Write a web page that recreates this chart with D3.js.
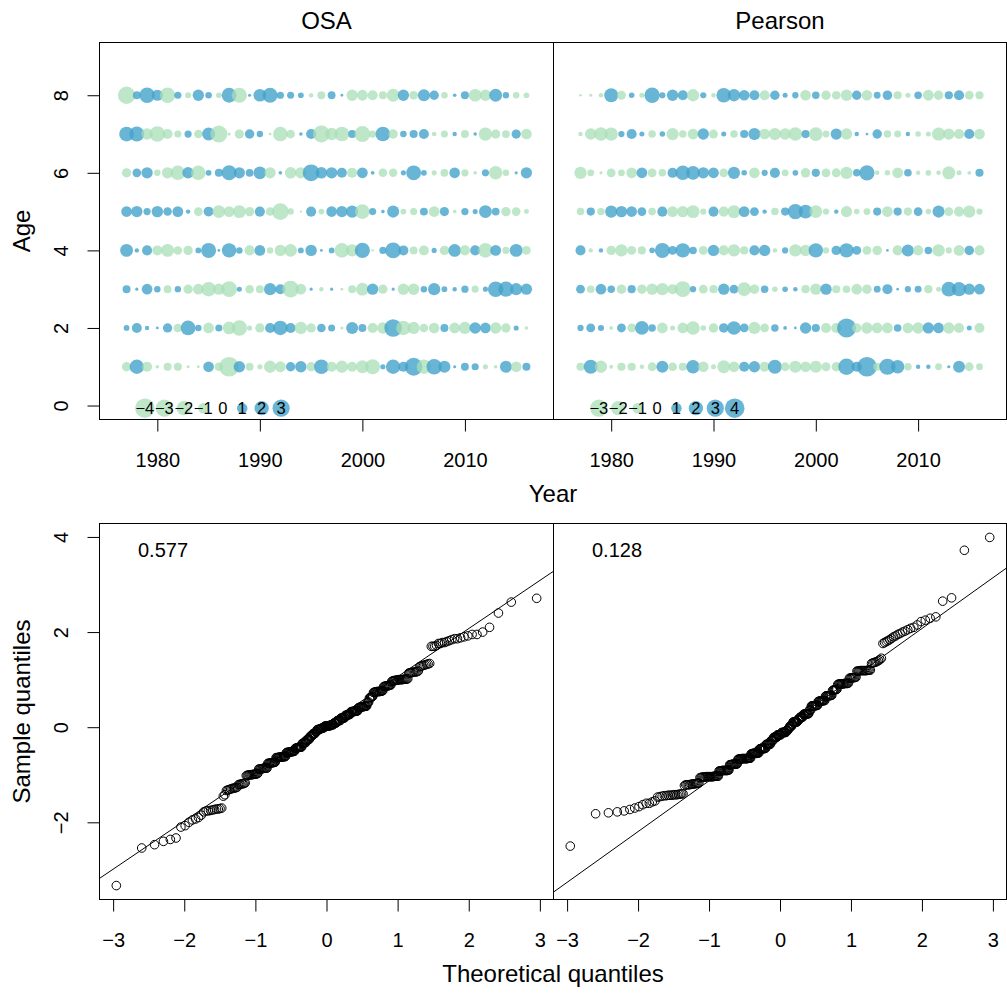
<!DOCTYPE html>
<html>
<head>
<meta charset="utf-8">
<script src="https://cdn.jsdelivr.net/npm/d3@7"></script>
<style>
body { margin: 0; background: #fff; }
svg { display: block; font-family: "Liberation Sans", Arial, Helvetica, sans-serif; }
</style>
</head>
<body>
<div id="chart"></div>
<script>
// years and ages of the residual grid
var years = [1977, 1978, 1979, 1980, 1981, 1982, 1983, 1984, 1985, 1986,
             1987, 1988, 1989, 1990, 1991, 1992, 1993, 1994, 1995, 1996,
             1997, 1998, 1999, 2000, 2001, 2002, 2003, 2004, 2005, 2006,
             2007, 2008, 2009, 2010, 2011, 2012, 2013, 2014, 2015, 2016]
var ages = [1, 2, 3, 4, 5, 6, 7, 8]

// OSA residuals, one array per age, years 1977..2016 (read from the bubbles)
var osaAge1 = [-0.63, 1.70, -0.75, -0.05, -0.43, -0.45, -0.03, -0.02, 0.87, -0.52, -3.33, 1.01, -0.42, -0.14, -1.19, -0.88, 0.63, 1.00, -0.62, 1.76, -0.76, -1.21, -0.74, -1.30, -1.85, 0.14, 1.72, 0.75, 2.71, -1.72, 1.95, 1.16, 0.03, 0.43, 0.33, -0.14, -0.05, 1.15, -0.86, 0.44]
var osaAge2 = [0.19, 0.74, 0.09, 0.02, 0.63, -0.53, 1.78, 0.26, -0.87, 0.33, -1.28, -1.95, -0.14, -0.63, 0.76, 1.70, 0.75, -1.20, -0.62, 0.52, 0.32, -0.03, 1.14, 0.43, -0.75, -1.01, 2.63, -1.72, -1.18, -0.51, -0.86, 0.44, -0.88, -1.17, 1.01, 0.87, -1.00, -0.64, 0.14, -0.05]
var osaAge3 = [0.43, 0.03, 0.87, 0.26, -0.42, 0.25, -0.62, -0.88, -1.71, -0.99, -2.07, 0.13, -0.52, -0.44, 1.17, 0.75, -2.33, -0.86, 0.03, -0.09, 0.03, -0.02, -0.42, -1.27, 1.00, -0.63, 0.03, -1.00, -1.01, 0.26, 1.18, 0.19, 0.09, 0.34, -0.33, 0.14, 2.00, 1.92, 1.16, 0.99]
var osaAge4 = [1.31, 0.09, 0.76, -0.74, -1.32, -0.51, -0.62, 0.19, 1.86, 0.02, 1.70, 0.26, -0.76, 0.87, -0.25, -1.00, -1.26, 0.20, 1.01, 0.02, 0.19, -1.75, -1.19, 1.90, -0.01, 0.33, 2.10, 0.74, -0.43, -0.73, 0.14, -0.64, 1.28, -0.75, 0.75, -1.76, 0.88, -0.32, 1.34, -0.53]
var osaAge5 = [0.86, 0.98, 0.34, 1.00, 0.51, 0.89, 0.09, -0.53, 0.73, -1.29, -0.87, -1.33, -0.63, 0.77, -0.51, -2.36, -0.26, -0.01, 0.75, -0.19, 0.85, 0.99, 1.15, -1.78, 0.33, 0.05, 1.14, -0.19, -0.33, 0.43, -0.86, 0.61, -0.05, 0.35, 0.14, 1.30, 0.42, -0.64, -0.52, -0.13]
var osaAge6 = [-0.63, 0.53, 0.99, -0.26, -1.00, -1.70, 1.01, -1.73, 0.19, 0.44, 1.84, 0.96, 0.41, 1.27, -0.97, 0.05, -1.02, -0.98, 2.40, 1.02, 1.00, 0.74, -0.75, 0.88, 0.06, -0.52, -0.50, 0.14, 1.82, 0.20, -0.14, -0.42, 0.86, -0.34, -0.05, 0.33, -1.45, -0.27, 0.03, 0.98]
var osaAge7 = [1.78, 1.86, -0.99, -2.00, -0.74, -0.33, 0.34, -0.51, 1.33, -2.47, -0.03, -0.62, 0.65, 0.25, -0.02, -1.74, -0.54, 0.05, 0.76, -2.40, -1.20, -1.76, 0.42, -2.10, -0.34, 1.76, -0.64, 0.27, 0.45, 0.73, -0.10, -0.32, 0.09, -0.44, 0.05, -1.42, -0.61, -0.41, 0.62, -0.86]
var osaAge8 = [-2.54, 0.42, 1.95, 0.97, -1.93, 0.33, -0.20, 1.00, 0.27, -0.18, 1.80, -1.90, 0.03, 1.29, 1.88, 0.34, 0.32, 0.19, -0.09, -0.44, 0.41, 0.02, -0.99, -0.88, -0.76, -0.42, -1.31, 0.98, -0.53, 1.16, 0.64, -0.27, 0.05, 0.44, -1.28, -0.98, 1.32, 0.25, -0.26, -0.19]

// Pearson residuals, one array per age, years 1977..2016
var pearsonAge1 = [-0.55, 1.95, -1.43, -0.07, -0.54, -0.56, -0.11, -0.66, 1.35, -0.65, -0.55, 1.78, -1.04, -0.16, -1.60, -1.03, 0.91, 1.19, -0.91, 1.92, -0.66, -1.41, -1.04, -1.40, -0.67, -0.78, 2.72, 0.92, 3.99, -0.55, 2.65, 1.76, -0.45, 0.11, 0.11, -0.36, 0.04, 1.34, -0.66, -0.36]
var pearsonAge2 = [0.28, 0.66, 0.27, -0.07, 0.67, -0.66, 1.82, 0.45, -1.04, -0.16, -1.05, -1.76, -0.21, -0.78, 0.79, 1.80, 0.66, -1.42, -0.65, 0.45, 0.07, 0.02, 1.19, 0.55, -0.91, -0.92, 3.72, -0.78, -1.20, -1.04, -1.06, 0.46, -1.03, -1.19, 1.18, 1.04, -1.21, -0.91, 0.16, -0.90]
var pearsonAge3 = [0.66, -0.45, 1.04, 0.45, -0.78, 0.55, -0.77, -1.19, -1.45, -0.91, -2.50, 0.28, -0.66, -0.55, 1.19, 0.66, -1.80, -0.79, 0.45, -0.21, 0.21, 0.11, -0.55, -1.18, 1.19, -0.54, -0.45, -1.04, -0.78, 0.36, 0.91, 0.02, 0.28, 0.36, -0.56, -0.16, 2.15, 1.97, 1.20, 1.04]
var pearsonAge4 = [0.91, -0.11, 0.11, -0.78, -1.43, -0.67, -0.55, 0.21, 2.22, 0.66, 2.05, 0.45, -0.65, 1.19, -0.91, -1.42, -0.56, 0.92, 1.18, -0.11, 0.28, -1.47, -1.21, 2.02, -0.28, 0.78, 2.00, 0.67, -0.66, -0.79, 0.02, -0.92, 1.36, -0.90, 0.45, -1.46, -0.28, -1.04, 0.79, -0.91]
var pearsonAge5 = [-0.45, 0.56, -0.44, 1.38, 1.20, 1.03, 0.66, -0.46, 0.92, -1.04, -1.20, -1.60, -0.28, 0.90, -0.92, -1.57, 1.05, 0.67, 0.11, -0.45, 0.55, 2.25, 1.84, -1.55, -0.29, 0.11, -1.17, -0.21, -0.36, 0.54, -1.03, 0.56, -0.55, 0.65, -0.21, 1.37, -0.66, -0.91, -1.40, -0.28]
var pearsonAge6 = [-1.44, -0.36, -0.04, -0.66, -0.36, -1.04, 1.05, -0.67, -0.45, 0.91, 2.08, 1.87, 1.20, 1.04, -0.65, 1.40, 0.21, -1.03, 0.28, 0.92, -0.36, 0.22, -0.78, 0.55, -0.66, -0.68, -1.41, 0.44, 2.29, -0.11, -0.21, -1.05, 0.46, -0.11, -0.22, -0.12, -1.63, -0.16, -0.07, 0.54]
var pearsonAge7 = [-0.11, -1.23, -1.73, -1.70, 0.28, 0.91, 0.16, -0.45, 0.21, -1.43, -0.44, -1.04, 1.19, -0.67, 0.16, -0.46, 0.55, 1.42, -1.03, -1.42, -1.21, -1.78, 0.56, -1.82, -0.36, 1.18, -1.19, 0.11, 0.02, 0.78, -0.45, -0.36, 0.11, -0.21, -0.16, -1.67, -1.18, -0.92, 0.91, -1.05]
var pearsonAge8 = [-0.02, -0.04, -0.11, 1.90, -0.67, 0.21, -0.16, 2.32, 0.28, 1.19, 0.92, -1.44, 0.27, -0.11, 2.10, 1.45, 1.03, 0.90, -0.91, 0.79, 0.16, 0.29, -1.05, 0.45, -0.77, -0.65, -1.21, 0.77, -1.03, 0.36, 0.80, -0.55, -0.16, 0.46, -1.06, -0.79, 0.56, 0.93, -0.66, -0.54]

// legend values and the numbers printed in the QQ panels
var osaLegend = [-4, -3, -2, -1, 0, 1, 2, 3]
var pearsonLegend = [-3, -2, -1, 0, 1, 2, 3, 4]
var osaStat = "0.577"
var pearsonStat = "0.128"

// tick labels
var yearTicks = [1980, 1990, 2000, 2010]
var ageTicks = [0, 2, 4, 6, 8]
var qqXTicks = [-3, -2, -1, 0, 1, 2, 3]
var qqYTicks = [-2, 0, 2, 4]

var width = 1007, height = 994
var colPos = "rgba(67, 162, 202, 0.8)"
var colNeg = "rgba(168, 221, 181, 0.75)"
var tickFont = 20, titleFont = 24, legendFont = 16.5
var rmax = 9.8, rmin = 0.7   // rmin: the rim every filled dot gets

var svg = d3.select("#chart").append("svg")
	.attr("width", width)
	.attr("height", height)

var cols = [{x0: 99.5, x1: 553.5}, {x0: 553.5, x1: 1006.5}]
var bubbleBox = {y0: 42.5, y1: 419.5}
var qqBox = {y0: 523.5, y1: 899.5}

var panels = [
	{name: "OSA", rows: [osaAge1, osaAge2, osaAge3, osaAge4, osaAge5, osaAge6, osaAge7, osaAge8], legend: osaLegend, stat: osaStat},
	{name: "Pearson", rows: [pearsonAge1, pearsonAge2, pearsonAge3, pearsonAge4, pearsonAge5, pearsonAge6, pearsonAge7, pearsonAge8], legend: pearsonLegend, stat: pearsonStat}
]

function minus(d) { return String(d).replace("-", "\u2212") }

// R style 4% axis expansion
function expand(lo, hi) {
	var r = hi - lo
	return [lo - 0.04 * r, hi + 0.04 * r]
}

// inverse normal cdf (Acklam)
function qnorm(p) {
	var a = [-3.969683028665376e+01, 2.209460984245205e+02, -2.759285104469687e+02, 1.383577518672690e+02, -3.066479806614716e+01, 2.506628277459239e+00]
	var b = [-5.447609879822406e+01, 1.615858368580409e+02, -1.556989798598866e+02, 6.680131188771972e+01, -1.328068155288572e+01]
	var c = [-7.784894002430293e-03, -3.223964580411365e-01, -2.400758277161838e+00, -2.549732539343734e+00, 4.374664141464968e+00, 2.938163982698783e+00]
	var d = [7.784695709041462e-03, 3.224671290700398e-01, 2.445134137142996e+00, 3.754408661907416e+00]
	var pl = 0.02425, q, r
	if (p < pl) {
		q = Math.sqrt(-2 * Math.log(p))
		return (((((c[0]*q+c[1])*q+c[2])*q+c[3])*q+c[4])*q+c[5]) / ((((d[0]*q+d[1])*q+d[2])*q+d[3])*q+1)
	}
	if (p > 1 - pl) {
		q = Math.sqrt(-2 * Math.log(1 - p))
		return -(((((c[0]*q+c[1])*q+c[2])*q+c[3])*q+c[4])*q+c[5]) / ((((d[0]*q+d[1])*q+d[2])*q+d[3])*q+1)
	}
	q = p - 0.5; r = q * q
	return (((((a[0]*r+a[1])*r+a[2])*r+a[3])*r+a[4])*r+a[5])*q / (((((b[0]*r+b[1])*r+b[2])*r+b[3])*r+b[4])*r+1)
}

// bottom axis in the R look: ticks down, no domain line
function bottomAxis(scale, ticks, y) {
	var g = svg.append("g")
		.attr("transform", "translate(0," + y + ")")
		.call(d3.axisBottom(scale).tickValues(ticks).tickSize(12).tickPadding(21).tickFormat(minus))
	g.select(".domain").remove()
	g.attr("font-size", tickFont).attr("font-family", null)
	g.selectAll("line").attr("stroke", "#000")
	g.selectAll("text").attr("fill", "#000")
}

// left axis with labels turned parallel to the axis
function leftAxis(scale, ticks, x) {
	var g = svg.append("g")
		.attr("transform", "translate(" + x + ",0)")
		.call(d3.axisLeft(scale).tickValues(ticks).tickSize(12).tickFormat(""))
	g.select(".domain").remove()
	g.selectAll("line").attr("stroke", "#000")
	g.selectAll(".tick").append("text")
		.attr("transform", "translate(-31.5,0) rotate(-90)")
		.attr("text-anchor", "middle")
		.attr("font-size", tickFont)
		.attr("fill", "#000")
		.text(minus)
}

// bubble radius: square root of |z|, plus the rim
function bubbleRadius(zmax) {
	var s = d3.scaleSqrt().domain([0, zmax]).range([rmin, rmax])
	return v => v == 0 ? 0 : s(Math.abs(v))
}

// ---- bubble panels ----
var zAll = []
panels.forEach((p, k) => {
	var col = cols[k]
	var xScale = d3.scaleLinear().domain(expand(years[0] - 1, years[years.length - 1] + 1)).range([col.x0, col.x1])
	var yScale = d3.scaleLinear().domain(expand(0, ages.length + 1)).range([bubbleBox.y1, bubbleBox.y0])

	var cells = []
	p.rows.forEach((row, a) => {
		row.forEach((z, i) => cells.push({year: years[i], age: ages[a], z: z}))
	})
	p.cells = cells
	var rad = bubbleRadius(d3.max(cells, d => Math.abs(d.z)))

	svg.append("g").selectAll("circle")
		.data(cells)
		.enter()
		.append("circle")
		.attr("cx", d => xScale(d.year))
		.attr("cy", d => yScale(d.age))
		.attr("r", d => rad(d.z))
		.style("fill", d => d.z < 0 ? colNeg : colPos)

	// legend along the bottom: 10% to 40% of the width, 3% up
	var dom = xScale.domain(), W = dom[1] - dom[0]
	var ydom = yScale.domain()
	var ly = ydom[0] + 0.03 * (ydom[1] - ydom[0])
	var lx = d3.scaleLinear().domain([0, p.legend.length - 1]).range([dom[0] + 0.1 * W, dom[0] + 0.4 * W])
	var lrad = bubbleRadius(d3.max(p.legend, v => Math.abs(v)))
	var lg = svg.append("g")
	lg.selectAll("circle")
		.data(p.legend)
		.enter()
		.append("circle")
		.attr("cx", (d, i) => xScale(lx(i)))
		.attr("cy", yScale(ly))
		.attr("r", d => lrad(d))
		.style("fill", d => d < 0 ? colNeg : colPos)
	lg.selectAll("text")
		.data(p.legend)
		.enter()
		.append("text")
		.attr("x", (d, i) => xScale(lx(i)))
		.attr("y", yScale(ly))
		.attr("dy", "0.36em")
		.attr("text-anchor", "middle")
		.attr("font-size", legendFont)
		.text(minus)

	svg.append("rect")
		.attr("x", col.x0).attr("y", bubbleBox.y0)
		.attr("width", col.x1 - col.x0).attr("height", bubbleBox.y1 - bubbleBox.y0)
		.attr("fill", "none").attr("stroke", "#000")

	bottomAxis(xScale, yearTicks, bubbleBox.y1)
	if (k == 0) leftAxis(yScale, ageTicks, col.x0)

	svg.append("text")
		.attr("x", (col.x0 + col.x1) / 2)
		.attr("y", 29)
		.attr("text-anchor", "middle")
		.attr("font-size", titleFont)
		.text(p.name)

	cells.forEach(d => zAll.push(d.z))
})

// ---- QQ panels ----
var qqY = d3.scaleLinear().domain(expand(d3.min(zAll), d3.max(zAll))).range([qqBox.y1, qqBox.y0])

panels.forEach((p, k) => {
	var col = cols[k]
	var sample = p.cells.map(d => d.z).sort(d3.ascending)
	var n = sample.length
	var pts = sample.map((v, i) => ({t: qnorm((i + 1 - 0.5) / n), s: v}))
	var qqX = d3.scaleLinear().domain(expand(pts[0].t, pts[n - 1].t)).range([col.x0, col.x1])

	var clipId = "clip" + k
	svg.append("clipPath").attr("id", clipId)
		.append("rect")
		.attr("x", col.x0).attr("y", qqBox.y0)
		.attr("width", col.x1 - col.x0).attr("height", qqBox.y1 - qqBox.y0)

	var g = svg.append("g").attr("clip-path", "url(#" + clipId + ")")

	// line through the quartiles
	var y1 = d3.quantile(sample, 0.25), y3 = d3.quantile(sample, 0.75)
	var slope = (y3 - y1) / (qnorm(0.75) - qnorm(0.25))
	var icpt = y1 - slope * qnorm(0.25)
	var xd = qqX.domain()
	g.append("line")
		.attr("x1", qqX(xd[0])).attr("y1", qqY(icpt + slope * xd[0]))
		.attr("x2", qqX(xd[1])).attr("y2", qqY(icpt + slope * xd[1]))
		.attr("stroke", "#000").attr("stroke-width", 1)

	g.selectAll("circle")
		.data(pts)
		.enter()
		.append("circle")
		.attr("cx", d => qqX(d.t))
		.attr("cy", d => qqY(d.s))
		.attr("r", 4.3)
		.attr("fill", "none")
		.attr("stroke", "#000")
		.attr("stroke-width", 1)

	svg.append("rect")
		.attr("x", col.x0).attr("y", qqBox.y0)
		.attr("width", col.x1 - col.x0).attr("height", qqBox.y1 - qqBox.y0)
		.attr("fill", "none").attr("stroke", "#000")

	svg.append("text")
		.attr("x", col.x0 + 38.5)
		.attr("y", 557)
		.attr("font-size", tickFont)
		.text(p.stat)

	bottomAxis(qqX, qqXTicks, qqBox.y1)
	if (k == 0) leftAxis(qqY, qqYTicks, col.x0)
})

// outer axis titles
var midX = (cols[0].x0 + cols[1].x1) / 2
svg.append("text").attr("x", midX).attr("y", 502).attr("text-anchor", "middle").attr("font-size", titleFont).text("Year")
svg.append("text").attr("x", midX).attr("y", 982).attr("text-anchor", "middle").attr("font-size", titleFont).text("Theoretical quantiles")
svg.append("text").attr("transform", "translate(30," + (bubbleBox.y0 + bubbleBox.y1) / 2 + ") rotate(-90)").attr("text-anchor", "middle").attr("font-size", titleFont).text("Age")
svg.append("text").attr("transform", "translate(30," + (qqBox.y0 + qqBox.y1) / 2 + ") rotate(-90)").attr("text-anchor", "middle").attr("font-size", titleFont).text("Sample quantiles")
</script>
</body>
</html>
